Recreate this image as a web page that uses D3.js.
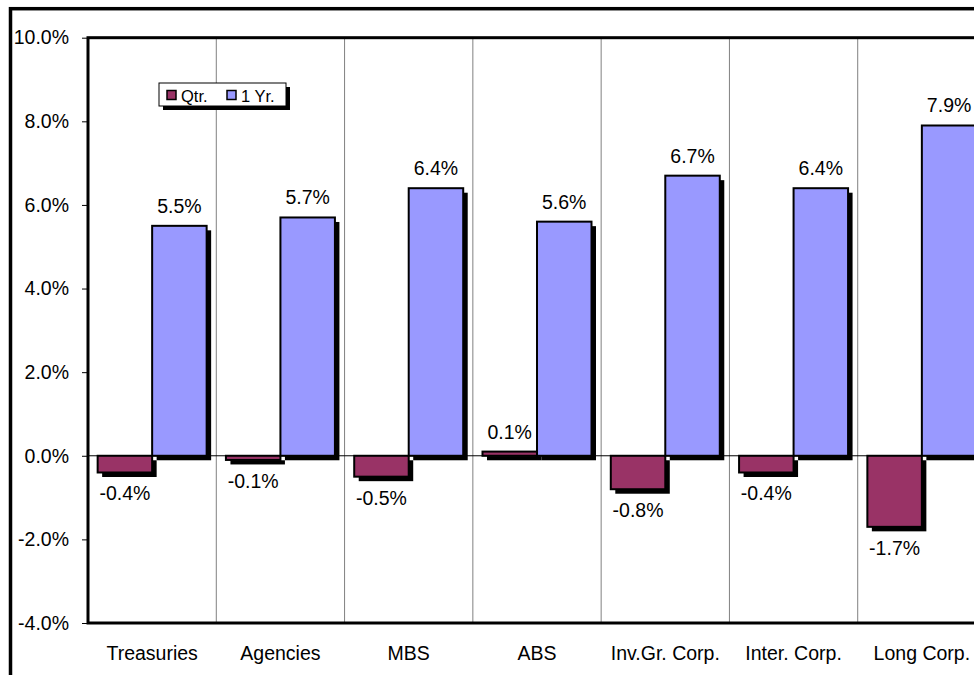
<!DOCTYPE html>
<html>
<head>
<meta charset="utf-8">
<script src="https://cdn.jsdelivr.net/npm/d3@7"></script>
<style>
  html, body { margin: 0; padding: 0; background: #fff; }
  svg { display: block; }
  text { font-family: "Liberation Sans", Arial, sans-serif; fill: #000; }
</style>
</head>
<body>
<svg id="chart" width="974" height="675"></svg>
<script>
const categories = ["Treasuries", "Agencies", "MBS", "ABS", "Inv.Gr. Corp.", "Inter. Corp.", "Long Corp."];
const seriesNames = ["Qtr.", "1 Yr."];
const qtrValues = [-0.4, -0.1, -0.5, 0.1, -0.8, -0.4, -1.7];
const yearValues = [5.5, 5.7, 6.4, 5.6, 6.7, 6.4, 7.9];
const yTicks = [-4, -2, 0, 2, 4, 6, 8, 10];
const seriesColors = ["#993366", "#9999FF"];

const locale = d3.formatLocale({ decimal: ".", thousands: ",", grouping: [3], currency: ["$", ""], minus: "-" });
const pct = v => locale.format(".1f")(v) + "%";

const svg = d3.select("#chart");
const plot = { left: 88, right: 986, top: 37.7, bottom: 623 };

// outer chart border
svg.append("rect")
  .attr("x", 10.5).attr("y", 8.7)
  .attr("width", 1000).attr("height", 700)
  .attr("fill", "#fff").attr("stroke", "#000").attr("stroke-width", 3.5);

const y = d3.scaleLinear().domain([-4, 10]).range([plot.bottom, plot.top]);
const x0 = d3.scaleBand().domain(categories).range([plot.left, plot.right]).paddingInner(0).paddingOuter(0);
const x1 = d3.scaleBand().domain(seriesNames).range([0, x0.bandwidth()]).paddingInner(0).paddingOuter(0.177);

// vertical dividers
svg.append("g").selectAll("line")
  .data(categories.slice(1))
  .join("line")
  .attr("x1", d => x0(d)).attr("x2", d => x0(d))
  .attr("y1", plot.top).attr("y2", plot.bottom)
  .attr("stroke", "#808080").attr("stroke-width", 1);

// zero line
svg.append("line")
  .attr("x1", plot.left).attr("x2", plot.right)
  .attr("y1", y(0)).attr("y2", y(0))
  .attr("stroke", "#000").attr("stroke-width", 1);

// y axis
const yAxis = d3.axisLeft(y).tickValues(yTicks).tickFormat(pct).tickSize(6).tickPadding(13);
const yg = svg.append("g").attr("transform", `translate(${plot.left},0)`).call(yAxis);
yg.select(".domain").remove();
yg.selectAll(".tick line").attr("stroke", "#000").attr("stroke-width", 1);
yg.selectAll(".tick text").attr("font-size", "19.5px").attr("font-family", '"Liberation Sans", Arial, sans-serif').attr("fill", "#000");

// x labels
const xAxis = d3.axisBottom(x0).tickSize(0).tickPadding(23);
const xg = svg.append("g").attr("transform", `translate(0,${plot.bottom})`).call(xAxis);
xg.select(".domain").remove();
xg.selectAll(".tick text").attr("font-size", "19.5px").attr("font-family", '"Liberation Sans", Arial, sans-serif').attr("fill", "#000");

// bars
const rows = categories.map((c, i) => ({ cat: c, vals: [qtrValues[i], yearValues[i]] }));
const groups = svg.append("g").selectAll("g")
  .data(rows).join("g")
  .attr("transform", d => `translate(${x0(d.cat)},0)`);

const barData = d => d.vals.map((v, j) => ({ v, s: seriesNames[j], j }));
const sh = 4.5;
groups.selectAll("rect.shadow").data(barData).join("rect")
  .attr("class", "shadow")
  .attr("x", d => x1(d.s) + sh)
  .attr("y", d => Math.min(y(d.v), y(0)) + sh)
  .attr("width", x1.bandwidth())
  .attr("height", d => Math.abs(y(d.v) - y(0)))
  .attr("fill", "#000");
groups.selectAll("rect.bar").data(barData).join("rect")
  .attr("class", "bar")
  .attr("x", d => x1(d.s))
  .attr("y", d => Math.min(y(d.v), y(0)))
  .attr("width", x1.bandwidth())
  .attr("height", d => Math.abs(y(d.v) - y(0)))
  .attr("fill", d => seriesColors[d.j])
  .attr("stroke", "#000").attr("stroke-width", 2);

groups.selectAll("text.lbl").data(barData).join("text")
  .attr("class", "lbl")
  .attr("x", d => x1(d.s) + x1.bandwidth() / 2)
  .attr("y", d => d.v >= 0 ? y(d.v) - 13 : y(d.v) + 28)
  .attr("text-anchor", "middle")
  .attr("font-size", "19.5px")
  .text(d => pct(d.v));

// plot frame (thick)
svg.append("rect")
  .attr("x", plot.left).attr("y", plot.top)
  .attr("width", plot.right - plot.left).attr("height", plot.bottom - plot.top)
  .attr("fill", "none").attr("stroke", "#000").attr("stroke-width", 3);

// legend
const lg = svg.append("g");
lg.append("rect").attr("x", 163).attr("y", 87).attr("width", 127).attr("height", 23).attr("fill", "#000");
lg.append("rect").attr("x", 159).attr("y", 83).attr("width", 127).attr("height", 23)
  .attr("fill", "#fff").attr("stroke", "#000").attr("stroke-width", 1);
const legX = [167, 227];
seriesNames.forEach((s, j) => {
  lg.append("rect").attr("x", legX[j]).attr("y", 90.5).attr("width", 9).attr("height", 9)
    .attr("fill", seriesColors[j]).attr("stroke", "#000").attr("stroke-width", 1.5);
  lg.append("text").attr("x", legX[j] + 14).attr("y", 101.5)
    .attr("font-size", "16.5px").text(s);
});
</script>
</body>
</html>
